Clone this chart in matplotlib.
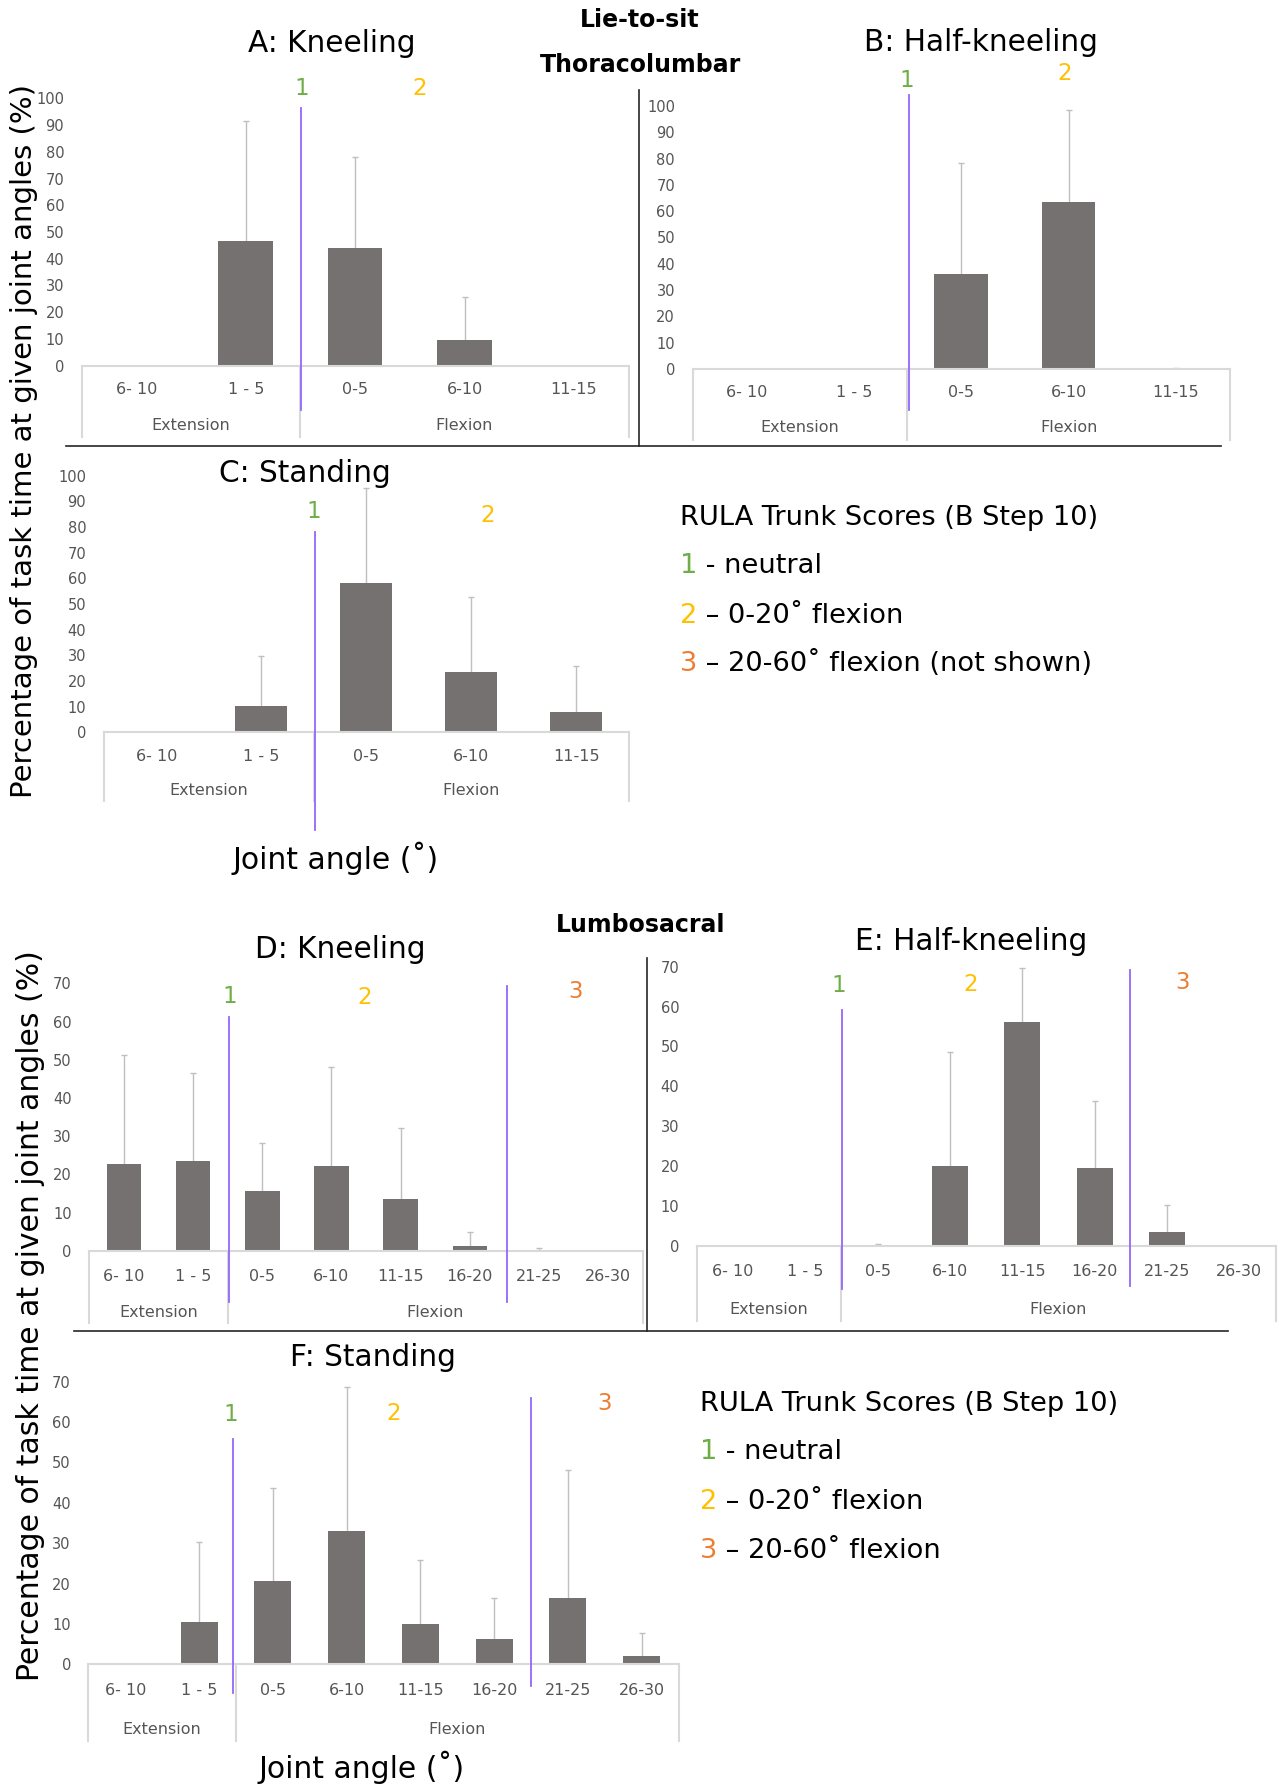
import numpy as np
import matplotlib
matplotlib.use("Agg")
import matplotlib.pyplot as plt
import matplotlib.transforms as mtransforms

plt.rcParams['font.family'] = ['DejaVu Sans']

W, H = 1284, 1785

# categories
cats5 = ["6- 10", "1 - 5", "0-5", "6-10", "11-15"]
cats8 = ["6- 10", "1 - 5", "0-5", "6-10", "11-15", "16-20", "21-25", "26-30"]

# thoracolumbar (mean % of task time, upper SD)
a_vals = [0, 46.7, 43.9, 9.7, 0]
a_err = [0, 44.8, 34.2, 16.1, 0]
b_vals = [0, 0, 36.1, 63.6, 0]
b_err = [0, 0, 42.2, 35.0, 0.3]
c_vals = [0, 10.4, 58.1, 23.5, 7.9]
c_err = [0, 19.3, 37.0, 29.2, 17.9]

# lumbosacral
d_vals = [22.8, 23.4, 15.7, 22.2, 13.6, 1.3, 0.1, 0]
d_err = [28.4, 23.0, 12.5, 26.0, 18.6, 3.6, 0.7, 0]
e_vals = [0, 0, 0.1, 20.1, 56.2, 19.5, 3.5, 0]
e_err = [0, 0, 0.3, 28.4, 13.5, 16.9, 6.8, 0]
f_vals = [0, 10.4, 20.7, 32.9, 10.0, 6.3, 16.4, 2.0]
f_err = [0, 19.9, 22.9, 35.9, 15.8, 10.0, 31.7, 5.7]

BAR = "#767171"
ERR = "#BFBFBF"
BOX = "#D9D9D9"
TICK = "#555555"
PURPLE = "#9467FA"
SCORE_COL = {"1": "#70AD47", "2": "#FFC000", "3": "#ED7D31"}

fig = plt.figure(figsize=(W / 100, H / 100), dpi=100)

# overlay canvas in pixel coordinates for titles, lines and legend
cv = fig.add_axes([0, 0, 1, 1])
cv.set_xlim(0, W)
cv.set_ylim(H, 0)
cv.axis("off")
cv.set_zorder(5)
cv.patch.set_visible(False)


def panel(cats, vals, errs, ymax, left, right, base, top, box_bottom, tick_y, group_y):
    ax = fig.add_axes([left / W, 1 - base / H, (right - left) / W, (base - top) / H])
    n = len(cats)
    x = np.arange(n)
    vals = np.array(vals, dtype=float)
    errs = np.array(errs, dtype=float)
    ax.bar(x, vals, width=0.5, color=BAR, zorder=2)
    m = errs > 0
    ax.vlines(x[m], vals[m], vals[m] + errs[m], color=ERR, lw=1.0, zorder=1)
    ax.plot(x[m], vals[m] + errs[m], ls="none", marker="_", ms=4.5, mew=1.0, color=ERR, zorder=1)
    ax.set_xlim(-0.5, n - 0.5)
    ax.set_ylim(0, ymax)
    ax.set_yticks(np.arange(0, ymax + 1, 10))
    ax.tick_params(axis="y", length=0, pad=12.6, labelsize=10.5, labelcolor=TICK)
    ax.set_xticks([])
    for s in ax.spines.values():
        s.set_visible(False)
    ax.patch.set_visible(False)

    tr = mtransforms.blended_transform_factory(ax.transData, ax.transAxes)

    def fy(py):
        return (base - py) / (base - top)

    ax.plot([-0.5, n - 0.5], [0, 0], transform=tr, color=BOX, lw=1.5, clip_on=False, zorder=3)
    for xb in [-0.5, 1.5, n - 0.5]:
        ax.plot([xb, xb], [0, fy(box_bottom)], transform=tr, color=BOX, lw=1.5, clip_on=False)
    for i, c in enumerate(cats):
        ax.text(i, fy(tick_y), c, transform=tr, ha="center", va="center",
                fontsize=11.5, color=TICK)
    ax.text(0.5, fy(group_y), "Extension", transform=tr, ha="center", va="center",
            fontsize=11.5, color=TICK)
    ax.text((2 + n - 1) / 2, fy(group_y), "Flexion", transform=tr, ha="center", va="center",
            fontsize=11.5, color=TICK)
    return ax


panel(cats5, a_vals, a_err, 100, 81.7, 628.6, 365.7, 98.3, 437, 389, 426)
panel(cats5, b_vals, b_err, 100, 692.6, 1229.7, 369, 106, 440, 392.7, 427.7)
panel(cats5, c_vals, c_err, 100, 103.7, 628.6, 732.3, 475.7, 801, 756, 790)
panel(cats8, d_vals, d_err, 70, 89.2, 643, 1250.7, 983.3, 1323, 1276, 1312)
panel(cats8, e_vals, e_err, 70, 696.7, 1275.5, 1246, 966.7, 1321, 1272, 1309)
panel(cats8, f_vals, f_err, 70, 88.4, 678.6, 1664.3, 1381.7, 1741, 1690.7, 1729)

# panel titles
titles = [("A: Kneeling", 332, 43), ("B: Half-kneeling", 981.5, 42), ("C: Standing", 305, 473),
          ("D: Kneeling", 340, 949), ("E: Half-kneeling", 971, 941), ("F: Standing", 373, 1357)]
for t, x, y in titles:
    cv.text(x, y, t, ha="center", va="center", fontsize=21.3)

cv.text(640, 20, "Lie-to-sit", ha="center", va="center", fontsize=17, fontweight="bold")
cv.text(640, 65, "Thoracolumbar", ha="center", va="center", fontsize=17, fontweight="bold")
cv.text(641, 925, "Lumbosacral", ha="center", va="center", fontsize=17, fontweight="bold")

# RULA boundary lines
purple_lines = [(300.8, 108, 410), (909, 95, 410), (314.5, 532, 830),
                (229, 1017, 1302), (506.6, 986, 1302),
                (841.8, 1010, 1289), (1129.6, 970, 1286),
                (233, 1439, 1693), (531, 1398, 1686)]
for x, y0, y1 in purple_lines:
    cv.plot([x, x], [y0, y1], color=PURPLE, lw=1.3)

score_marks = [("1", 302, 88), ("2", 420, 88), ("1", 907, 80), ("2", 1065, 73),
               ("1", 313.7, 511), ("2", 488, 515),
               ("1", 229.5, 996), ("2", 365, 997), ("3", 576, 991),
               ("1", 839, 985), ("2", 971, 984), ("3", 1182.5, 982),
               ("1", 231, 1414), ("2", 394, 1413), ("3", 605, 1403)]
for s, x, y in score_marks:
    cv.text(x, y, s, ha="center", va="center", fontsize=16.5, color=SCORE_COL[s])

# black separators
cv.plot([66, 1221], [446, 446], color="#262626", lw=1.2)
cv.plot([639, 639], [90, 446], color="#262626", lw=1.2)
cv.plot([74, 1228], [1331, 1331], color="#262626", lw=1.2)
cv.plot([647, 647], [958, 1331], color="#262626", lw=1.2)

# axis labels
cv.text(24, 441, "Percentage of task time at given joint angles (%)", rotation=90,
        ha="center", va="center", fontsize=21)
cv.text(31, 1316, "Percentage of task time at given joint angles (%)", rotation=90,
        ha="center", va="center", fontsize=21.5)
cv.text(336, 858, "Joint angle (\u02da)", ha="center", va="center", fontsize=21.5)
cv.text(362, 1767, "Joint angle (\u02da)", ha="center", va="center", fontsize=21.5)


def legend(x, ys, last):
    cv.text(x, ys[0], "RULA Trunk Scores (B Step 10)", ha="left", va="center", fontsize=19.6)
    rows = [("1", " - neutral"), ("2", " \u2013 0-20\u02da flexion"), ("3", last)]
    for (num, rest), y in zip(rows, ys[1:]):
        t = cv.text(x, y, num, ha="left", va="center", fontsize=19.6, color=SCORE_COL[num])
        cv.annotate(rest, xy=(1, 0), xycoords=t, ha="left", va="bottom", fontsize=19.6)


legend(680, [517.7, 566, 615.5, 663.5], " \u2013 20-60\u02da flexion (not shown)")
legend(700, [1403.5, 1452, 1501.5, 1550.5], " \u2013 20-60\u02da flexion")

fig.savefig("out.png", dpi=100)
